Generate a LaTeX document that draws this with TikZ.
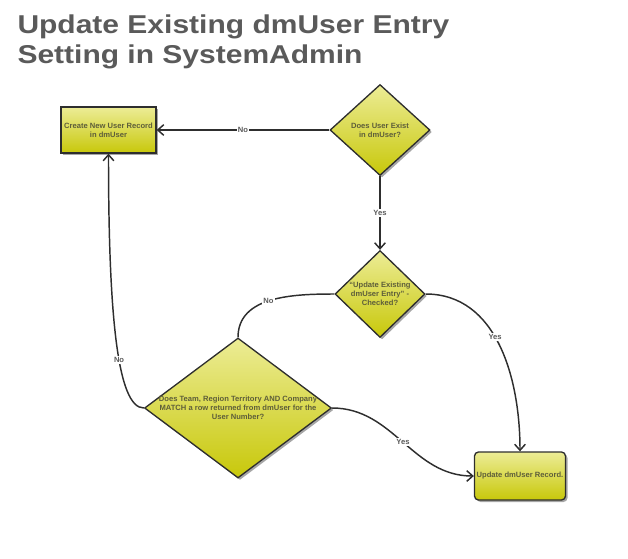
\documentclass[tikz,border=0pt]{standalone}
\usepackage{fontspec}
\setmainfont{Liberation Sans}
\usetikzlibrary{shapes.geometric,arrows.meta,shadows}

\definecolor{flowTop}{HTML}{ECEC96}
\definecolor{flowBottom}{HTML}{C8C80A}
\definecolor{flowBorder}{HTML}{2E2E2E}
\definecolor{flowText}{HTML}{5E5E3A}
\definecolor{titleGray}{HTML}{5A5A5A}

\tikzset{every picture/.style={line width=0.75pt}}
\tikzset{
  flowshape/.style={draw=flowBorder, line width=1pt, top color=flowTop, bottom color=flowBottom,
    drop shadow={shadow xshift=1.5pt, shadow yshift=-1.5pt, fill=black, opacity=0.35},
    inner sep=0pt, font=\fontsize{5.7}{6.8}\selectfont\bfseries, text=flowText, align=center},
  decision/.style={flowshape, diamond},
  process/.style={flowshape, rectangle},
  qtext/.style={inner sep=0pt, font=\fontsize{5.7}{6.8}\selectfont\bfseries, text=flowText, align=center},
  flowline/.style={draw=flowBorder, line width=1.1pt, -{Straight Barb[length=4.5pt,width=8pt]}},
  flowlabel/.style={fill=white, inner sep=1pt, text=titleGray, font=\fontsize{5.7}{6.8}\selectfont\bfseries},
  title/.style={inner sep=0pt, anchor=base west, text=titleGray, font=\fontsize{22.5}{27}\selectfont\bfseries},
}

\begin{document}
\begin{tikzpicture}[x=0.75pt,y=0.75pt,yscale=-1,xscale=1]
\useasboundingbox (0,0) rectangle (628,558);

% Text Node
\node[title] (titleA) at (17,33) {\scalebox{1}[0.86]{Update Existing dmUser Entry}};
% Text Node
\node[title] (titleB) at (17,63) {\scalebox{1}[0.86]{Setting in SystemAdmin}};

%Shape: Rectangle
\node[process, minimum width=71.25pt, minimum height=34.5pt] (create) at (108.5,130) {Create New User Record\\in dmUser};
%Shape: Diamond
\node[decision, minimum width=75pt, minimum height=68.25pt,
  label={[qtext]center:Does User Exist\\in dmUser?}] (exist) at (380,130) {};
%Shape: Diamond
\node[decision, minimum width=67.5pt, minimum height=65.25pt,
  label={[qtext]center:``Update Existing\\dmUser Entry'' -\\Checked?}] (checked) at (380,294) {};
%Shape: Diamond
\node[decision, minimum width=140.25pt, minimum height=105pt,
  label={[qtext]center:Does Team, Region Territory AND Company\\MATCH a row returned from dmUser for the\\User Number?}] (match) at (238,408) {};
%Shape: Rounded Rectangle
\node[process, rounded corners=3pt, minimum width=68.25pt, minimum height=36pt] (update) at (520,476) {Update dmUser Record.};

%Curve Lines
\draw[flowline] (exist.west) -- node[flowlabel] {No} (create.east);
\draw[flowline] (exist.south) -- node[flowlabel] {Yes} (checked.north);
\draw[flowline, -] (checked.west) to[out=180, in=270] node[flowlabel, pos=0.52] {No} (match.north);
\draw[flowline] (checked.east) to[out=0, in=270] node[flowlabel, pos=0.45] {Yes} (update.north);
\draw[flowline] (match.east) to[out=0, in=180] node[flowlabel] {Yes} (update.west);
\draw[flowline] (match.west) to[out=180, in=90, out distance=20pt, in distance=120pt] node[flowlabel, pos=0.42] {No} (create.south);

\end{tikzpicture}
\end{document}
